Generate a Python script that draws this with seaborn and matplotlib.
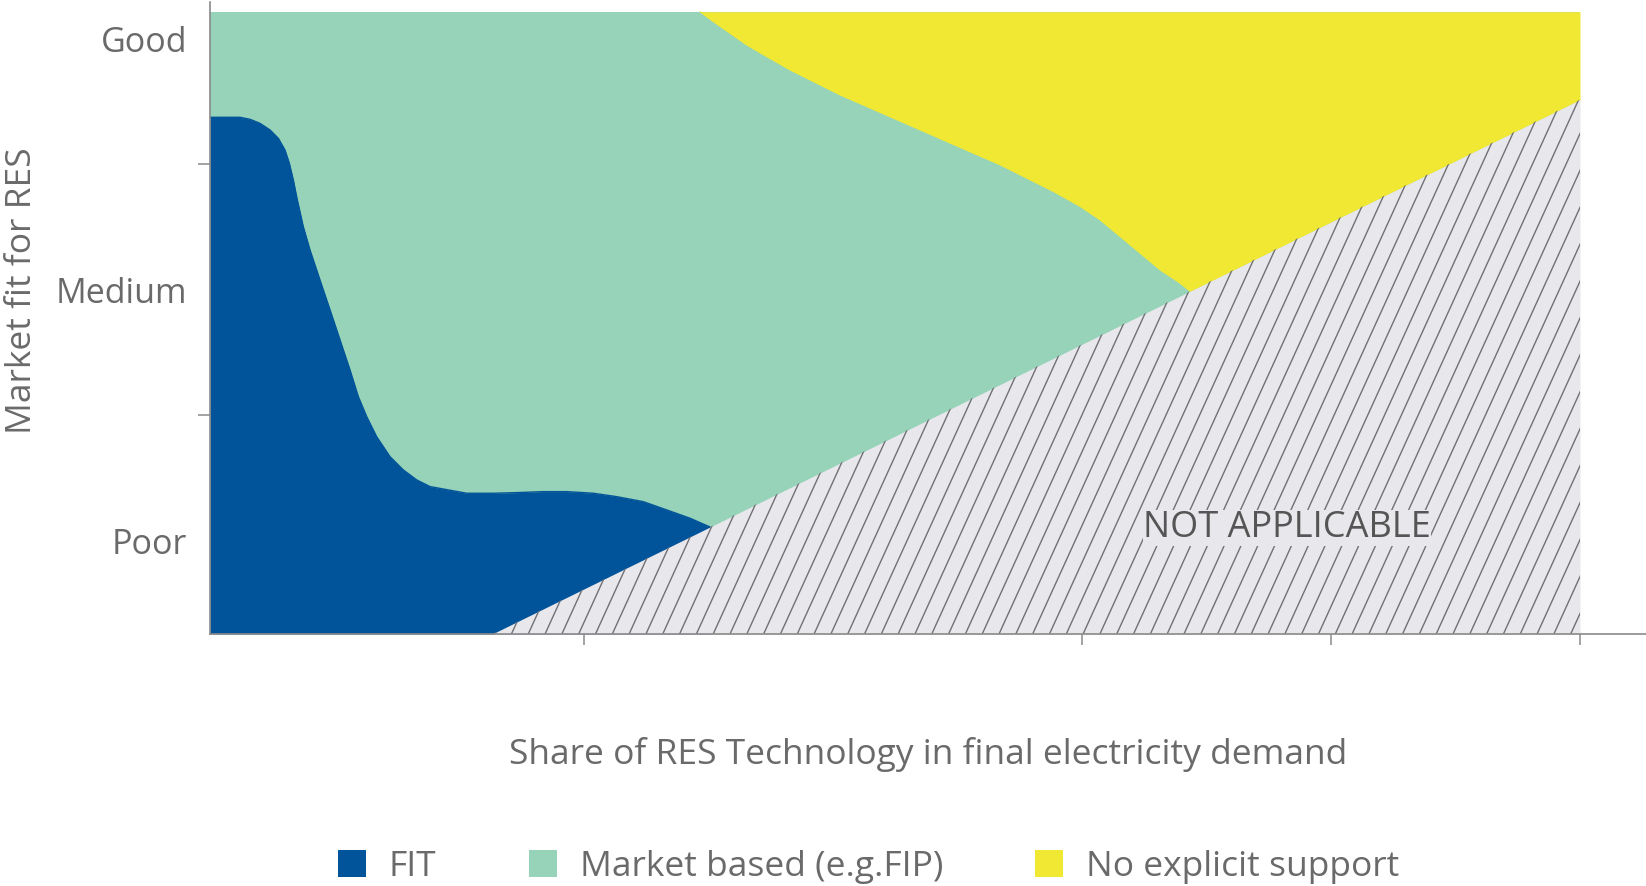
import numpy as np
import matplotlib
matplotlib.use("Agg")
import matplotlib.pyplot as plt
from matplotlib.collections import LineCollection
from matplotlib.patches import Patch
import seaborn as sns

# x = share of RES (tick scale 0..11), y = market fit (Poor=1, Medium=3, Good=5)
fit_x = [0.0, 0.241, 0.321, 0.401, 0.482, 0.549, 0.602, 0.637, 0.669, 0.701, 0.749,
         0.803, 0.883, 0.964, 1.044, 1.124, 1.191, 1.258, 1.338, 1.445, 1.552, 1.660,
         1.767, 2.061, 2.275, 2.462, 2.676, 2.864, 3.078, 3.265, 3.479, 3.667, 3.854, 4.015]
fit_y = [4.374, 4.374, 4.358, 4.326, 4.273, 4.206, 4.113, 4.007, 3.874, 3.715, 3.502,
         3.316, 3.077, 2.838, 2.599, 2.360, 2.147, 1.988, 1.828, 1.669, 1.563, 1.483,
         1.430, 1.377, 1.377, 1.382, 1.390, 1.390, 1.377, 1.350, 1.310, 1.244, 1.178, 1.108]

noexp_x = [3.934, 4.041, 4.175, 4.309, 4.470, 4.657, 4.844, 5.058, 5.273, 5.487, 5.701,
           5.915, 6.129, 6.343, 6.558, 6.772, 6.986, 7.146, 7.307, 7.468, 7.628, 7.789,
           7.869, 11.0]
noexp_y = [5.216, 5.137, 5.044, 4.951, 4.858, 4.752, 4.659, 4.553, 4.460, 4.367, 4.274,
           4.181, 4.088, 3.996, 3.889, 3.783, 3.664, 3.557, 3.424, 3.291, 3.158, 3.052,
           2.988, 4.515]

na_x = [2.266, 11.0]
na_y = [0.255, 4.515]

y_bottom = 0.255
y_top = 5.216
x_end = 11.0

y_ticks = [1, 3, 5]
y_labels = ["Poor", "Medium", "Good"]
y_minor = [2, 4]
x_ticks = [3, 7, 9, 11]

labels = ["FIT", "Market based (e.g.FIP)", "No explicit support"]
colors = ["#02549a", "#96d3b8", "#f0e833"]

sns.set_theme(style="white")
plt.rcParams['font.family'] = ['Open Sans', 'DejaVu Sans']
grey = '#6a6a6a'
axcol = '#8a8a8a'
na_bg = '#e7e7ec'

fig = plt.figure(figsize=(16.46, 8.86), dpi=100)
ax = fig.add_axes([210/1646, 1 - 634/886, 1436/1646, 632/886])

ax.fill_between([0, x_end], y_bottom, y_top, color=colors[1], lw=0)
ax.fill_between(noexp_x, noexp_y, y_top, color=colors[2], lw=0)
sns.lineplot(x=noexp_x, y=noexp_y, color=colors[2], lw=0.8, sort=False, ax=ax)
ax.fill_between(fit_x, y_bottom, fit_y, color=colors[0], lw=0)
sns.lineplot(x=fit_x, y=fit_y, color=colors[0], lw=1, sort=False, ax=ax)
na = ax.fill_between(na_x, y_bottom, na_y, color=na_bg, lw=0)

# steep hatch lines, clipped to the "not applicable" triangle
k = 2.18
dx = 0.135
rise = y_top - y_bottom
starts = np.arange(na_x[0] - rise / k, x_end, dx)
segs = [[(s, y_bottom), (s + rise / k, y_top)] for s in starts]
lc = LineCollection(segs, colors='#707075', linewidths=1.0)
ax.add_collection(lc)
lc.set_clip_path(na.get_paths()[0], ax.transData)

ax.text(0.7503, 0.1535, "NOT APPLICABLE", transform=ax.transAxes, ha='center',
        va='baseline', fontsize=26, color='#555555', zorder=5,
        bbox=dict(facecolor=na_bg, edgecolor='none', pad=0))

ax.set_xlim(0, x_end * 1436 / 1370)
ax.set_ylim(y_bottom, 5.293)

ax.set_yticks(y_ticks, y_labels)
ax.set_yticks(y_minor, minor=True)
ax.set_xticks(x_ticks, [])
ax.tick_params(axis='y', which='major', length=0, pad=16.5, labelsize=24.5, labelcolor=grey)
ax.tick_params(axis='y', which='minor', left=True, length=9, width=1.1, color=axcol, direction='out')
ax.tick_params(axis='x', bottom=True, length=8, width=1.1, color=axcol, direction='out')

sns.despine(ax=ax)
for s in ['left', 'bottom']:
    ax.spines[s].set_color(axcol)
    ax.spines[s].set_linewidth(1.2)

ax.set_xlabel("Share of RES Technology in final electricity demand", fontsize=25.5, color=grey)
ax.xaxis.set_label_coords(0.5, -0.2057)
ax.xaxis.label.set_va('baseline')
ax.set_ylabel("Market fit for RES", fontsize=25.5, color=grey)
ax.yaxis.set_label_coords(-0.1193, 0.544)

handles = [Patch(facecolor=c, edgecolor='none', label=l) for c, l in zip(colors, labels)]
fig.legend(handles=handles, loc='center', bbox_to_anchor=(0.5277, 0.0213), ncol=3,
           frameon=False, fontsize=25.5, handlelength=0.79, handleheight=0.79,
           handletextpad=0.65, columnspacing=2.6, labelcolor=grey)

fig.savefig("out.png", dpi=100)
